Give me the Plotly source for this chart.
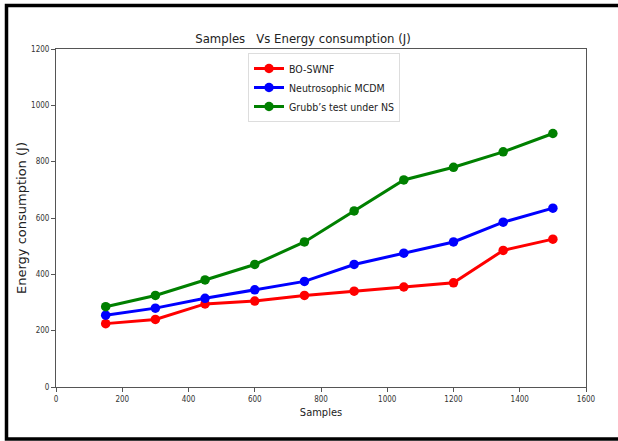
import plotly.graph_objects as go

samples = [150, 300, 450, 600, 750, 900, 1050, 1200, 1350, 1500]
bo_swnf = [225, 240, 295, 305, 325, 340, 355, 370, 485, 525]
neutro_mcdm = [255, 280, 315, 345, 375, 435, 475, 515, 585, 635]
grubbs_ns = [285, 325, 380, 435, 515, 625, 735, 780, 835, 900]

series = [
    ("BO-SWNF", bo_swnf, "#ff0000"),
    ("Neutrosophic MCDM", neutro_mcdm, "#0000ff"),
    ("Grubb\u2019s test under NS", grubbs_ns, "#008000"),
]

FONT = "DejaVu Sans Condensed, DejaVu Sans, sans-serif"

fig = go.Figure()
for name, vals, col in series:
    fig.add_trace(go.Scatter(
        x=samples, y=vals, name=name, mode="lines+markers",
        line=dict(color=col, width=3),
        marker=dict(color=col, size=9.5),
    ))

axis_common = dict(
    showgrid=False, zeroline=False, showline=True, mirror=True,
    linecolor="#555555", linewidth=1,
    ticks="outside", ticklen=4, tickcolor="#555555",
    tickfont=dict(family=FONT, size=8, color="#333333"),
)

fig.update_layout(
    width=618, height=441,
    margin=dict(l=56, r=32, t=49, b=54),
    paper_bgcolor="white", plot_bgcolor="white",
    title=dict(text="Samples\u00a0\u00a0\u00a0Vs Energy consumption (J)",
               x=303 / 618, xanchor="center",
               font=dict(family=FONT, size=13, color="#222222"),
               y=1 - 38 / 441, yanchor="middle"),
    xaxis=dict(range=[0, 1600], tickvals=list(range(0, 1601, 200)),
               title=dict(text="Samples", font=dict(family=FONT, size=11, color="#222222"), standoff=5),
               **axis_common),
    yaxis=dict(range=[0, 1200], tickvals=list(range(0, 1201, 200)),
               title=dict(text="Energy consumption (J)", font=dict(family="DejaVu Sans, sans-serif", size=13, color="#222222"), standoff=1),
               **axis_common),
    legend=dict(x=(248 - 56) / 530, y=(387 - 53) / 338, xanchor="left", yanchor="top",
                bgcolor="white", bordercolor="#dddddd", borderwidth=1,
                font=dict(family=FONT, size=10.5, color="#222222"),
                itemwidth=30, tracegroupgap=0),
    showlegend=True,
    shapes=[dict(type="rect", xref="paper", yref="paper",
                 x0=(6.5 - 56) / 530, x1=1.2,
                 y0=(387 - 439) / 338, y1=(387 - 5.5) / 338,
                 line=dict(color="black", width=3.5), layer="above")],
)

fig.write_html("out.html", config={"displayModeBar": False},
               post_script="document.body.style.margin='0';document.body.style.overflow='hidden';")
